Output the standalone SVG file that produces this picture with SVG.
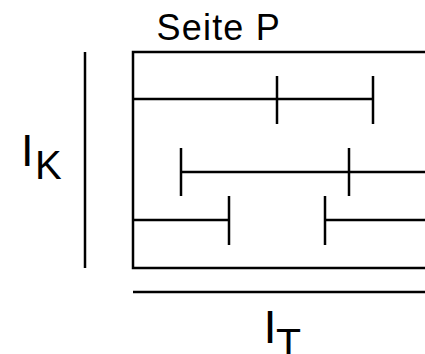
<svg xmlns="http://www.w3.org/2000/svg" width="425" height="354" viewBox="0 0 425 354">
  <style>
    .ln { stroke: #000; stroke-width: 2.5; fill: none; stroke-linecap: butt; }
    .lbl { font-family: "Liberation Sans", Arial, sans-serif; fill: #000; }
  </style>
  <rect width="425" height="354" fill="#fff"/>

  <!-- page frame, open on the right -->
  <g id="page">
    <path class="ln" d="M425 52 H133 V268 H425"/>
    <text class="lbl" x="156.5" y="39.5" font-size="36" letter-spacing="1.2">Seite P</text>
  </g>

  <!-- key axis -->
  <g id="axis-k">
    <line class="ln" x1="85" y1="52" x2="85" y2="268"/>
    <text class="lbl" x="21" y="166" font-size="45">I<tspan x="35" y="179" font-size="40">K</tspan></text>
  </g>

  <!-- time axis -->
  <g id="axis-t">
    <line class="ln" x1="133" y1="292" x2="425" y2="292"/>
    <text class="lbl" x="263.5" y="343" font-size="47">I<tspan x="276" y="357" font-size="41">T</tspan></text>
  </g>

  <!-- intervals -->
  <g id="connectors">
    <g id="row1">
      <line class="ln" x1="133" y1="99" x2="373" y2="99"/>
      <line class="ln" x1="277" y1="76" x2="277" y2="124"/>
      <line class="ln" x1="373" y1="76" x2="373" y2="124"/>
    </g>
    <g id="row2">
      <line class="ln" x1="181" y1="172" x2="425" y2="172"/>
      <line class="ln" x1="181" y1="148" x2="181" y2="196"/>
      <line class="ln" x1="349" y1="148" x2="349" y2="196"/>
    </g>
    <g id="row3">
      <line class="ln" x1="133" y1="220" x2="229" y2="220"/>
      <line class="ln" x1="229" y1="196" x2="229" y2="245"/>
      <line class="ln" x1="325" y1="220" x2="425" y2="220"/>
      <line class="ln" x1="325" y1="196" x2="325" y2="245"/>
    </g>
  </g>
</svg>
